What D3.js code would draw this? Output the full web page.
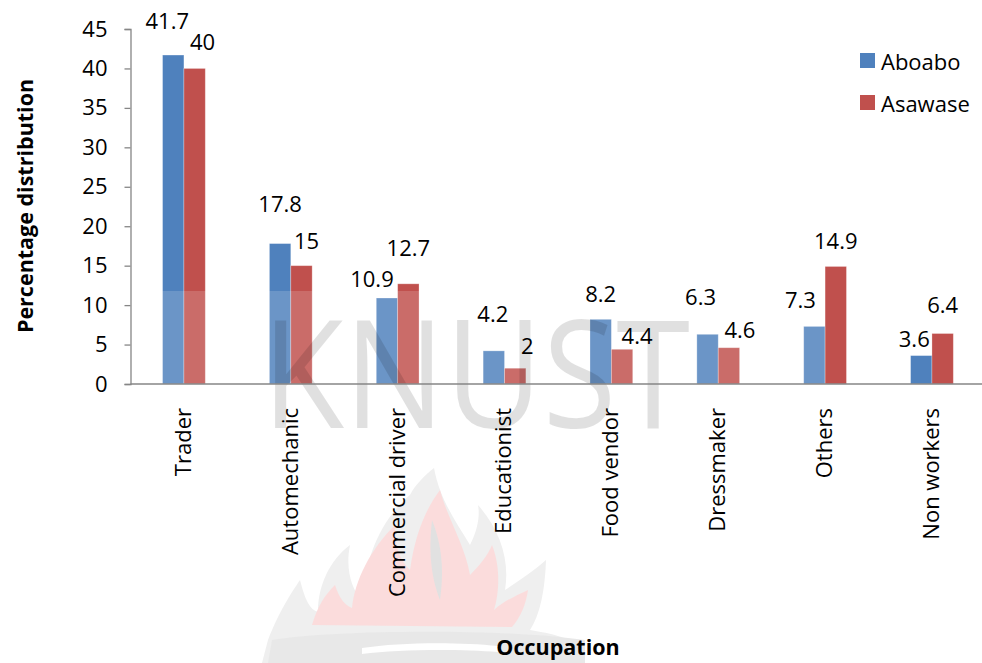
<!DOCTYPE html>
<html>
<head>
<meta charset="utf-8">
<script src="https://cdn.jsdelivr.net/npm/d3@7"></script>
<style>
  body { margin: 0; background: #fff; }
  svg { display: block; font-family: "Open Sans", sans-serif; }
</style>
</head>
<body>
<svg width="982" height="663"></svg>
<script>
var occupations = ["Trader", "Automechanic", "Commercial driver", "Educationist",
                   "Food vendor", "Dressmaker", "Others", "Non workers"];
var aboabo  = [41.7, 17.8, 10.9, 4.2, 8.2, 6.3, 7.3, 3.6];
var asawase = [40, 15, 12.7, 2, 4.4, 4.6, 14.9, 6.4];
var seriesNames = ["Aboabo", "Asawase"];
var yTicks = [0, 5, 10, 15, 20, 25, 30, 35, 40, 45];

// hand placed data labels in the original, offsets from the bar top centre
var labelNudge = {
  Aboabo:  [[-6, -35], [0, -41], [-15, -20], [-1, -38], [0, -26], [-7, -38], [-14, -27], [-7, -18]],
  Asawase: [[8, -27], [5, -26], [0, -37], [12, -23], [15, -14], [11, -19], [0, -26], [0, -30]]
};

var colors = {Aboabo: "#4f81bd", Asawase: "#c0504d"};

var svg = d3.select("svg"),
    margin = {top: 29, right: 0, bottom: 279, left: 130.5},
    height = +svg.attr("height");

var rows = occupations.map(function(d, i) {
  return {occ: d, Aboabo: aboabo[i], Asawase: asawase[i]};
});

var x0 = d3.scaleBand()
    .domain(occupations)
    .range([margin.left, margin.left + 106.86 * occupations.length])
    .paddingInner(0.6)
    .paddingOuter(0.3);

var x1 = d3.scaleBand()
    .domain(seriesNames)
    .range([0, x0.bandwidth()]);

var y = d3.scaleLinear()
    .domain([0, 45])
    .range([height - margin.bottom, margin.top]);

// watermark logo (flame) behind everything
var logo = svg.append("g");
logo.append("path")
    .attr("fill", "#ececec")
    .attr("d", "M268,640 C280,610 290,595 300,580 C305,600 310,610 318,612 C318,585 330,560 350,545 C345,570 352,590 362,600 C365,560 380,520 410,495 C415,485 425,475 434,468 C440,500 455,520 470,545 C478,530 480,515 478,505 C500,530 510,560 505,590 C520,580 535,570 546,560 C545,590 540,615 530,630 C560,635 575,640 583,650 L583,663 L262,663 Z");
logo.append("path")
    .attr("fill", "#fbd6d6")
    .attr("d", "M312,625 C318,605 325,595 335,585 C340,600 345,605 352,608 C355,580 370,550 395,525 C395,548 400,560 410,570 C415,535 425,510 440,490 C448,520 465,545 470,575 C480,565 488,555 492,545 C500,565 500,590 494,610 C505,600 518,595 528,590 C526,605 520,618 512,627 Z");
logo.append("path")
    .attr("fill", "#dcdcdc")
    .attr("d", "M432,520 C440,540 445,565 440,600 C432,580 428,555 432,520 Z");
logo.append("path")
    .attr("fill", "#e4e4e4")
    .attr("d", "M272,640 C330,630 500,628 585,640 L585,663 L268,663 Z");
logo.append("path")
    .attr("fill", "#ffffff")
    .attr("d", "M362,648 C400,642 460,642 498,646 L498,652 C460,649 400,649 362,654 Z");

// bars
svg.append("g")
  .selectAll("g")
  .data(rows)
  .enter().append("g")
    .attr("transform", function(d) { return "translate(" + x0(d.occ) + ",0)"; })
  .selectAll("rect")
  .data(function(d) { return seriesNames.map(function(k) { return {key: k, value: d[k]}; }); })
  .enter().append("rect")
    .attr("x", function(d) { return x1(d.key); })
    .attr("y", function(d) { return y(d.value); })
    .attr("width", x1.bandwidth())
    .attr("height", function(d) { return y(0) - y(d.value); })
    .attr("fill", function(d) { return colors[d.key]; })
    .attr("stroke", "#ffffff")
    .attr("stroke-opacity", 0.35)
    .attr("stroke-width", 0.8);

// watermark overlay: pale band + KNUST letters
svg.append("rect")
    .attr("x", 135).attr("y", 291)
    .attr("width", 690).attr("height", 372)
    .attr("fill", "#ffffff")
    .attr("fill-opacity", 0.16);

svg.append("text")
    .attr("x", 262).attr("y", 428)
    .attr("font-size", 150)
    .attr("textLength", 428)
    .attr("lengthAdjust", "spacingAndGlyphs")
    .attr("fill", "#000")
    .attr("fill-opacity", 0.12)
    .text("KNUST");

// axes
var yAxis = svg.append("g")
    .attr("transform", "translate(" + margin.left + ",0)")
    .call(d3.axisLeft(y).tickValues(yTicks).tickSize(6).tickPadding(17));
yAxis.select(".domain").attr("stroke", "#868686").attr("stroke-width", 1.3);
yAxis.selectAll(".tick line").attr("stroke", "#868686").attr("stroke-width", 1.3);
yAxis.selectAll(".tick text")
    .attr("font-family", "Open Sans, sans-serif")
    .attr("font-size", 22)
    .attr("fill", "#000");

var xAxis = svg.append("g")
    .attr("transform", "translate(0," + y(0) + ")")
    .call(d3.axisBottom(x0).tickSize(0).tickPadding(0));
xAxis.select(".domain").attr("stroke", "#868686").attr("stroke-width", 1.3)
    .attr("d", "M" + margin.left + ",0H982");
xAxis.selectAll(".tick text")
    .attr("font-family", "Open Sans, sans-serif")
    .attr("font-size", 22)
    .attr("fill", "#000")
    .attr("text-anchor", "end")
    .attr("dy", null)
    .attr("dominant-baseline", "middle")
    .attr("transform", "translate(1,24) rotate(-90)")
    .attr("y", 0);

// data labels
seriesNames.forEach(function(k, s) {
  var vals = s === 0 ? aboabo : asawase;
  svg.append("g")
    .selectAll("text")
    .data(vals)
    .enter().append("text")
      .attr("x", function(d, i) { return x0(occupations[i]) + x1(k) + x1.bandwidth() / 2 + labelNudge[k][i][0]; })
      .attr("y", function(d, i) { return y(d) + labelNudge[k][i][1]; })
      .attr("text-anchor", "middle")
      .attr("dominant-baseline", "central")
      .attr("font-size", 22)
      .attr("fill", "#000")
      .text(function(d) { return d; });
});

// legend
var legend = svg.append("g")
    .attr("transform", "translate(860,53)")
  .selectAll("g")
  .data(seriesNames)
  .enter().append("g")
    .attr("transform", function(d, i) { return "translate(0," + i * 42 + ")"; });
legend.append("rect")
    .attr("width", 15).attr("height", 15)
    .attr("fill", function(d) { return colors[d]; });
legend.append("text")
    .attr("x", 21).attr("y", 8)
    .attr("dominant-baseline", "central")
    .attr("font-size", 22)
    .text(function(d) { return d; });

// axis titles
svg.append("text")
    .attr("transform", "translate(24,206) rotate(-90)")
    .attr("text-anchor", "middle")
    .attr("dominant-baseline", "central")
    .attr("font-weight", "bold")
    .attr("font-size", 21.5)
    .text("Percentage distribution");

svg.append("text")
    .attr("x", 558).attr("y", 646)
    .attr("text-anchor", "middle")
    .attr("dominant-baseline", "central")
    .attr("font-weight", "bold")
    .attr("font-size", 21.5)
    .text("Occupation");
</script>
</body>
</html>
